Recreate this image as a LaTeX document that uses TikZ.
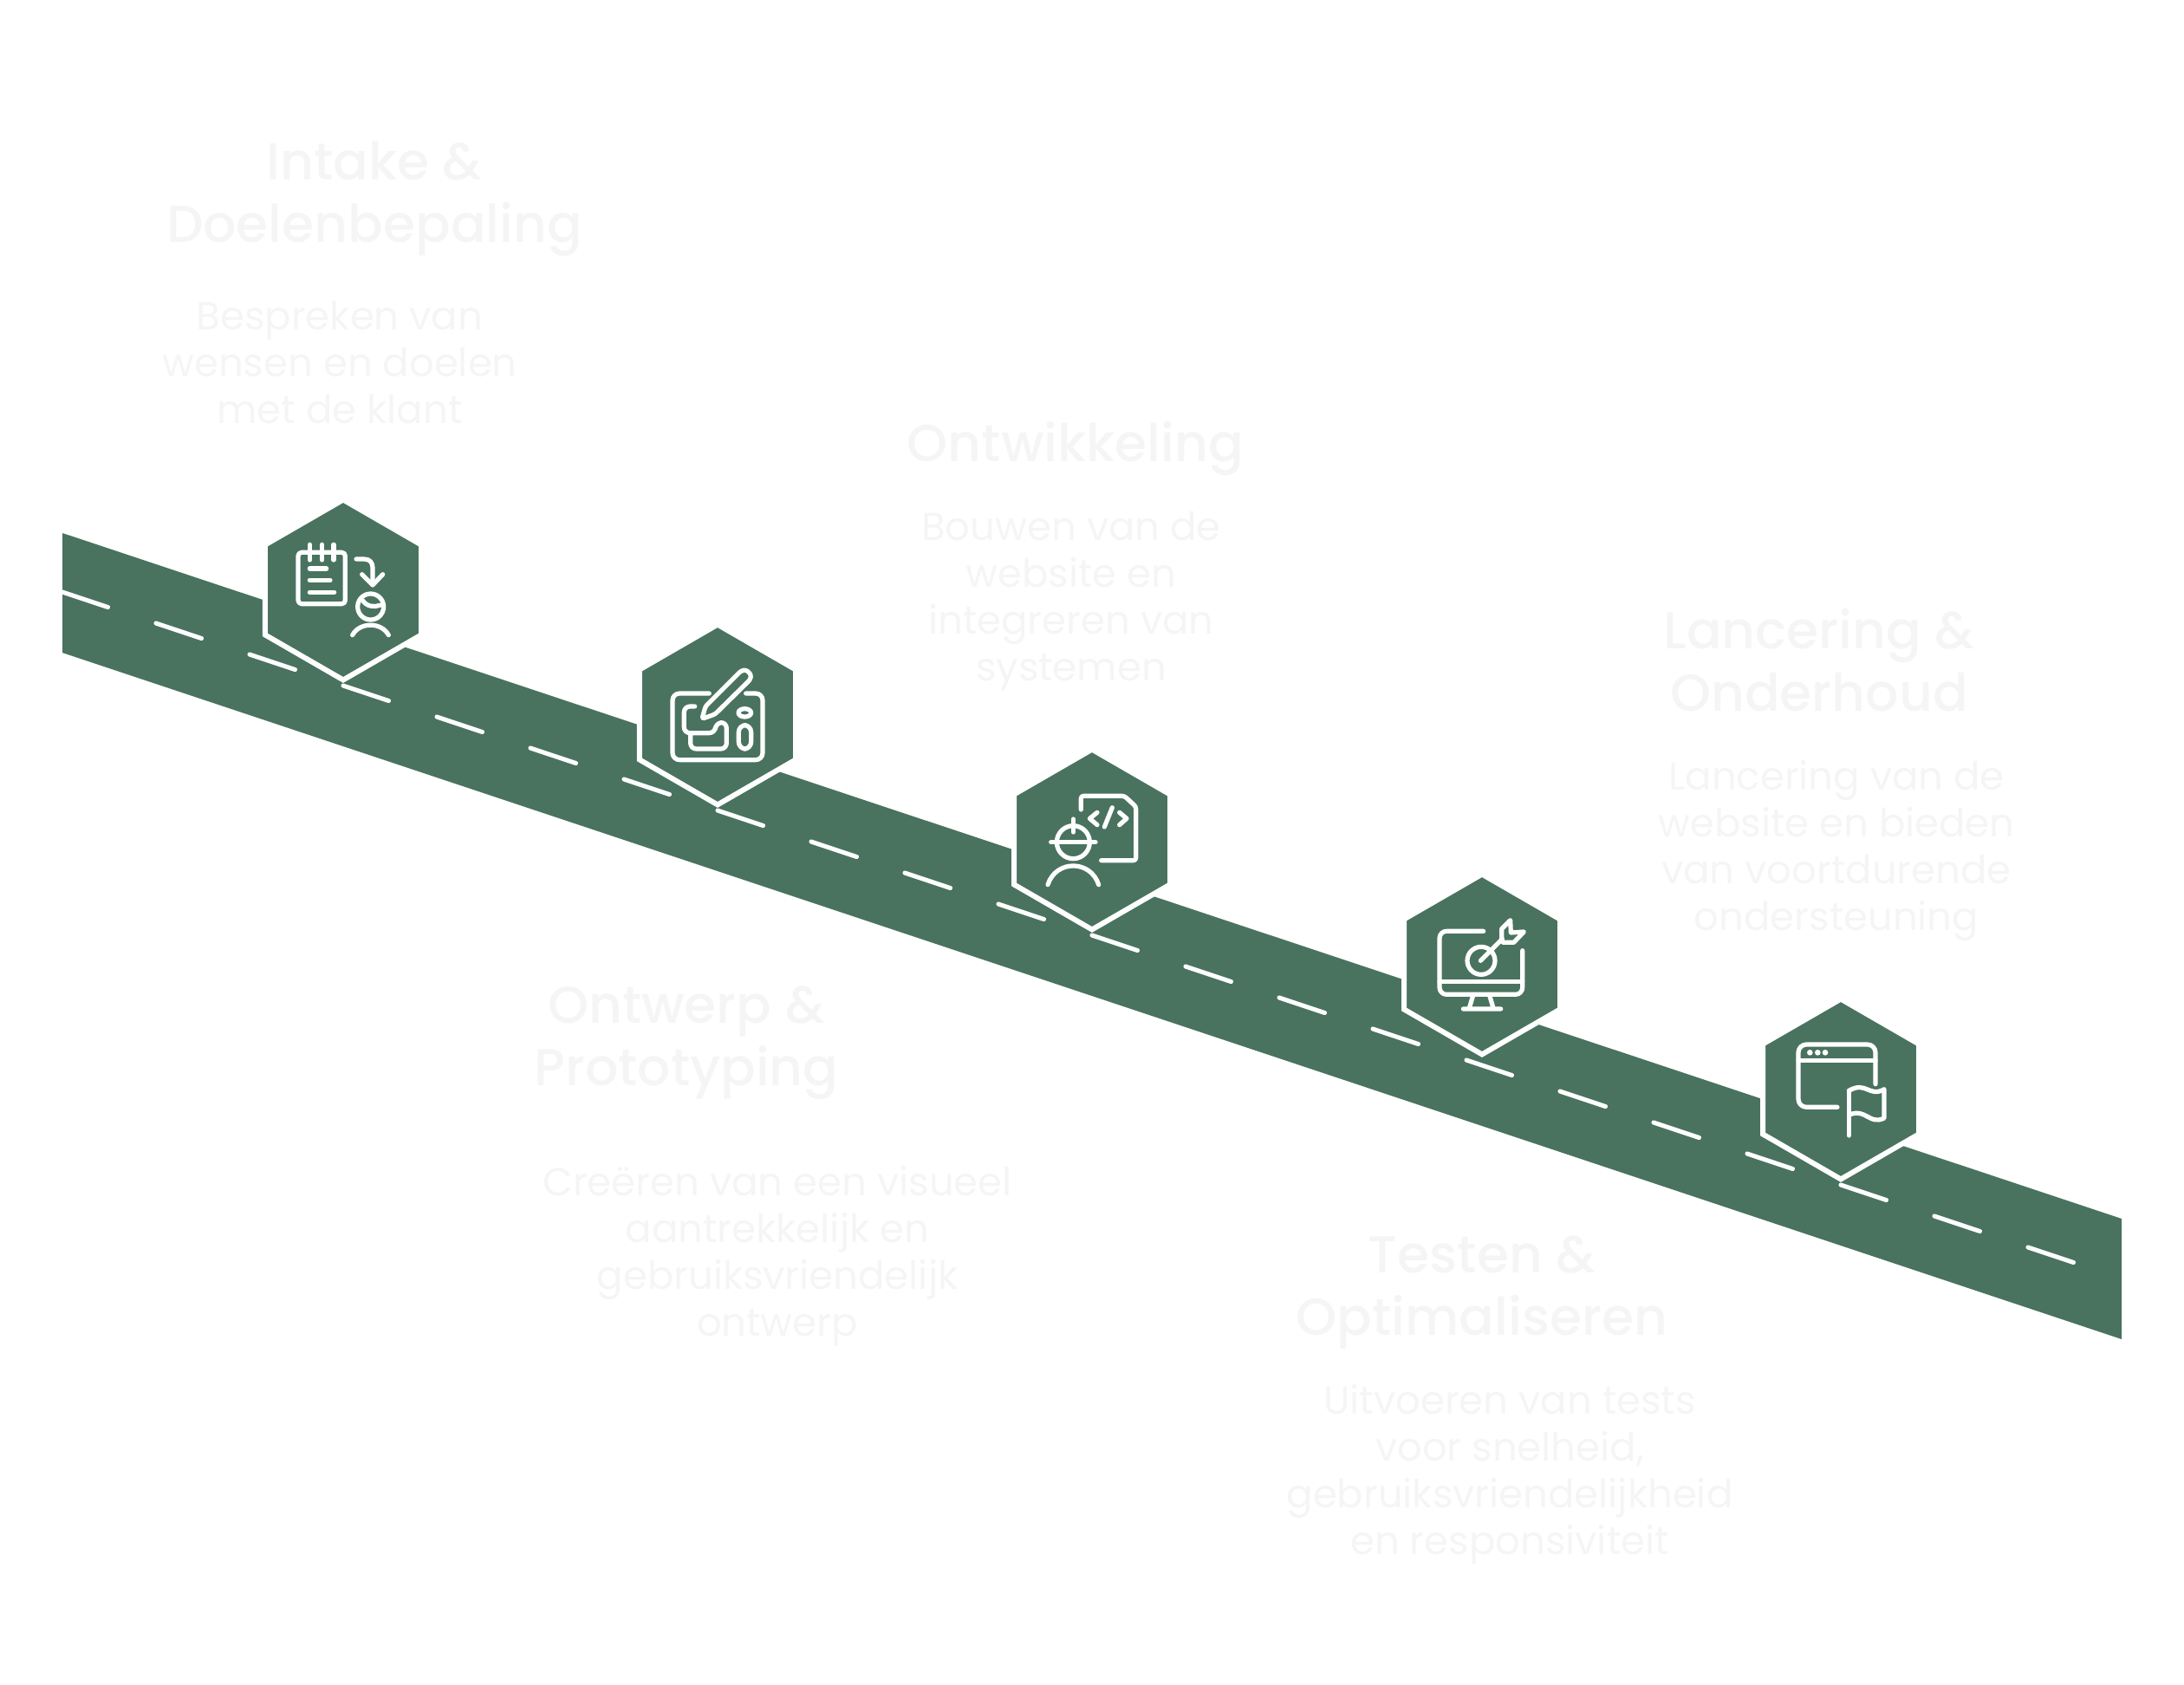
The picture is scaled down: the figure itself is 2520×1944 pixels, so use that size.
\documentclass[tikz,border=0pt]{standalone}
\usepackage{fontspec}
\setmainfont{Poppins}
\newfontfamily\headfont{Poppins Medium}
\usetikzlibrary{shapes.geometric}
\definecolor{roadgreen}{HTML}{49735F}
\definecolor{paletext}{HTML}{F5F5F5}
\tikzstyle{hexa} = [regular polygon, regular polygon sides=6, shape border rotate=30, minimum size=155.9pt, inner sep=0pt, outer sep=0pt, fill=roadgreen, draw=white, line width=4.5pt]
\tikzstyle{head} = [anchor=base, align=center, inner sep=0pt, text=paletext, font=\headfont\fontsize{45}{54}\selectfont]
\tikzstyle{descr} = [anchor=base, align=center, inner sep=0pt, text=paletext, font=\fontsize{33.75}{40.5}\selectfont]
\tikzstyle{lane} = [white, line width=3.8pt, line cap=round, dash pattern=on 41.5pt off 43.88pt]
\tikzstyle{icon} = [white, line width=3.9pt, line cap=round, line join=round, x=.25pt, y=-.25pt]

\begin{document}
\begin{tikzpicture}[x=.75pt, y=-.75pt]
\useasboundingbox (0,0) rectangle (2520,1944);

\coordinate (lane start) at (72,683);
\coordinate (lane end) at (2394,1457);

\fill [roadgreen] (72,615) -- (2448,1406) -- (2448,1545) -- (72,753) -- cycle;
\begin{scope}
\clip (72,615) -- (2448,1406) -- (2448,1545) -- (72,753) -- cycle;
\draw [lane] (lane start) -- (lane end);
\end{scope}

\node (hex1) [hexa] at (396,680.5) {};
\node (hex2) [hexa] at (828,824.5) {};
\node (hex3) [hexa] at (1260,968.5) {};
\node (hex4) [hexa] at (1710,1112.5) {};
\node (hex5) [hexa] at (2124,1256.5) {};

\node (title1) [head] at (432,280) {Intake \&\\Doelenbepaling};
\node (text1) [descr] at (392,488) {Bespreken van\\wensen en doelen\\met de klant};
\node (title2) [head] at (792,1252) {Ontwerp \&\\Prototyping};
\node (text2) [descr] at (897,1541) {Creëren van een visueel\\aantrekkelijk en\\gebruiksvriendelijk\\ontwerp};
\node (title3) [head] at (1241,532) {Ontwikkeling};
\node (text3) [descr] at (1236,785) {Bouwen van de\\website en\\integreren van\\systemen};
\node (title4) [head] at (1710,1540) {Testen \&\\Optimaliseren};
\node (text4) [descr] at (1742,1793) {Uitvoeren van tests\\voor snelheid,\\gebruiksvriendelijkheid\\en responsiviteit};
\node (title5) [head] at (2099,820) {Lancering \&\\Onderhoud};
\node (text5) [descr] at (2119,1073) {Lancering van de\\website en bieden\\van voortdurende\\ondersteuning};

% notepad and client
\begin{scope}[shift={(270,550)}, icon]
\draw [rounded corners=3pt] (222,262) rectangle (385,440);
\draw (262,235) -- (262,288) (305,235) -- (305,288) (345,235) -- (345,288);
\draw (262,318) -- (320,318) (262,358) -- (333,358) (262,400) -- (347,400);
\draw (423,285) -- (450,285) .. controls (470,285) and (480,297) .. (480,315) -- (480,372);
\draw (443,338) -- (480,375) -- (515,338);
\draw (473,450) circle (45);
\draw (445,428) .. controls (460,450) and (485,452) .. (505,445);
\draw (410,548) .. controls (435,502) and (510,502) .. (535,548);
\end{scope}

% tablet and pen
\begin{scope}[shift={(700,700)}, icon]
\draw [rounded corners=6pt] (355,300) -- (228,300) -- (228,530) -- (540,530) -- (540,300) -- (482,300);
\draw [rounded corners=2pt] (330,388) -- (342,345) -- (465,222) -- (482,218) -- (500,235) -- (497,252) -- (375,372) -- cycle;
\draw [rounded corners=5pt] (305,345) -- (268,345) -- (268,437) -- (375,437) -- (378,402) -- (415,400) -- (415,492) -- (290,492) -- (290,437);
\draw (478,367) ellipse (22 and 14);
\draw [rounded corners=6pt] (457,410) rectangle (500,492);
\end{scope}

% builder and code
\begin{scope}[shift={(1140,840)}, icon]
\draw [rounded corners=2pt] (322,282) -- (322,235) -- (472,235) -- (512,272) -- (512,458) -- (392,458);
\draw (378,292) -- (352,313) -- (378,335);
\draw (430,275) -- (403,342);
\draw (455,292) -- (480,313) -- (455,335);
\draw (295,395) circle (57);
\draw (295,315) -- (295,360);
\draw (218,395) -- (372,395);
\draw (207,542) .. controls (235,455) and (355,455) .. (383,542);
\end{scope}

% screen and target
\begin{scope}[shift={(1590,990)}, icon]
\draw [rounded corners=6pt] (365,253) -- (213,253) -- (213,472) -- (500,472) -- (500,320);
\draw (213,428) -- (500,428);
\draw (330,472) -- (315,522) (385,472) -- (400,522) (295,522) -- (425,522);
\draw (357,355) circle (48);
\draw (355,355) -- (430,280);
\draw (428,283) -- (428,245) -- (458,215) -- (460,258) -- (505,255) -- (470,292) -- (432,292) -- cycle;
\end{scope}

% window and flag
\begin{scope}[shift={(2000,1130)}, icon]
\draw [rounded corners=7pt] (492,362) -- (492,225) -- (225,225) -- (225,442) -- (360,442);
\draw (225,280) -- (492,280);
\fill (265,253) circle (10) (292,253) circle (10) (318,253) circle (10);
\draw (400,540) -- (400,385);
\draw (400,385) .. controls (460,350) and (470,410) .. (522,380) -- (522,480) .. controls (470,505) and (460,445) .. (402,468);
\end{scope}

\end{tikzpicture}
\end{document}
